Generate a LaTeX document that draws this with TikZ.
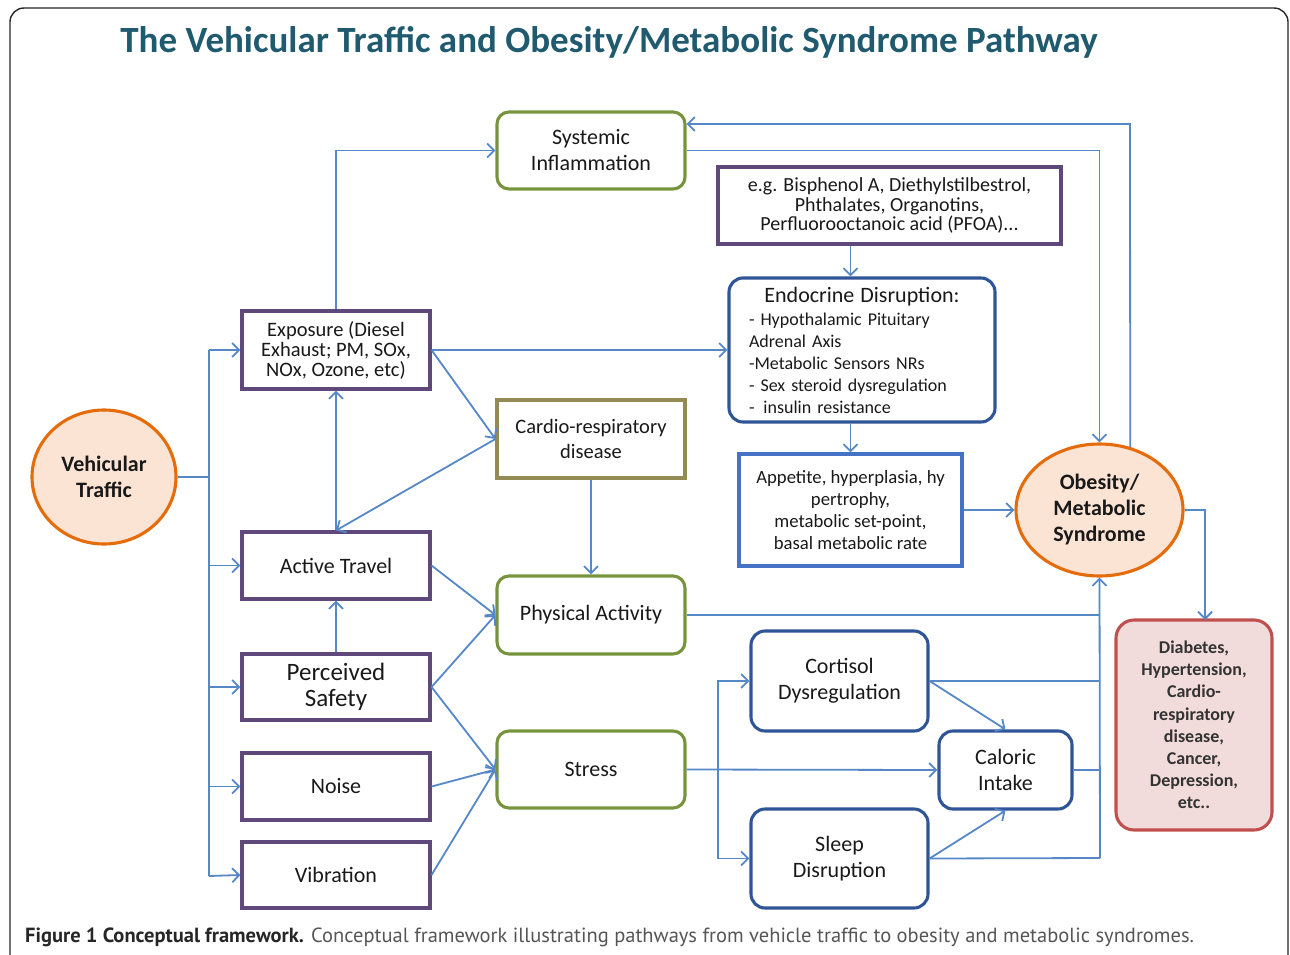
\documentclass[tikz,border=0pt]{standalone}
\usepackage{fontspec}
\setmainfont{Carlito}
\newfontfamily\capfont{PT Sans}
\usetikzlibrary{arrows.meta,shapes.geometric,calc}
\definecolor{conn}{RGB}{86,135,199}
\definecolor{gborder}{RGB}{119,147,60}
\definecolor{pborder}{RGB}{95,73,122}
\definecolor{oborder}{RGB}{148,138,84}
\definecolor{nborder}{RGB}{47,85,151}
\definecolor{lborder}{RGB}{69,114,196}
\definecolor{orborder}{RGB}{228,108,10}
\definecolor{orfill}{RGB}{252,228,212}
\definecolor{rborder}{RGB}{192,80,77}
\definecolor{rfill}{RGB}{242,220,219}
\definecolor{titlecol}{RGB}{31,90,110}
\definecolor{txt}{RGB}{25,25,25}
\definecolor{capgray}{RGB}{85,85,85}
\tikzset{
  basebox/.style={draw, line width=3.1pt, inner sep=0pt, align=center, text=txt,
    font=\fontsize{22}{26}\selectfont},
  greenbox/.style={basebox, draw=gborder, rounded corners=12pt},
  purplebox/.style={basebox, draw=pborder},
  olivebox/.style={basebox, draw=oborder},
  navybox/.style={basebox, draw=nborder, rounded corners=14pt},
  bluebox/.style={basebox, draw=lborder},
  ovalnode/.style={basebox, ellipse, draw=orborder, fill=orfill, font=\fontsize{22}{26}\selectfont\bfseries},
  redbox/.style={basebox, draw=rborder, fill=rfill, rounded corners=18pt},
  linkplain/.style={draw=conn, line width=1.8pt},
  link/.style={linkplain, -{Straight Barb[length=7pt,width=14pt,line width=1.8pt]}}
}
\begin{document}
\begin{tikzpicture}[x=1pt,y=-1pt]
\useasboundingbox (0,0) rectangle (1290,955);
% outer frame
\draw[line width=1.4pt, color=black!85, rounded corners=14pt] (10,1000) -- (10,8) -- (1288,8) -- (1288,1000);
% title
\node[font=\fontsize{37}{40}\selectfont\bfseries, text=titlecol] (title) at (609,42) {The Vehicular Traffic and Obesity/Metabolic Syndrome Pathway};

% nodes
\node[ovalnode, minimum width=144pt, minimum height=134pt] (VT) at (104,477) {Vehicular\\Traffic};
\node[greenbox, minimum width=188pt, minimum height=77pt] (SI) at (591,150.5) {Systemic\\Inflammation};
\node[purplebox, minimum width=188pt, minimum height=78pt, font=\fontsize{20.5}{20}\selectfont] (EX) at (336,350) {Exposure (Diesel\\Exhaust; PM, SOx,\\NOx, Ozone, etc)};
\node[purplebox, minimum width=343pt, minimum height=77pt, font=\fontsize{20}{19.5}\selectfont] (BP) at (889.5,205.5) {e.g. Bisphenol A, Diethylstilbestrol,\\Phthalates, Organotins,\\Perfluorooctanoic acid (PFOA)...};
\node[navybox, minimum width=266pt, minimum height=144pt, font=\fontsize{18}{22}\selectfont, text width=226pt, align=left] (ED) at (862,350)
  {\makebox[\linewidth][c]{\fontsize{22}{22}\selectfont Endocrine Disruption:}\\[1pt]
   - Hypothalamic Pituitary\\ Adrenal Axis\\ -Metabolic Sensors NRs\\ - Sex steroid dysregulation\\ -\, insulin resistance};
\node[olivebox, minimum width=188pt, minimum height=78pt, font=\fontsize{20.5}{25}\selectfont] (CR) at (591,439) {Cardio-respiratory\\disease};
\node[bluebox, minimum width=223pt, minimum height=112pt, font=\fontsize{18.7}{22}\selectfont] (AP) at (850.5,510) {Appetite, hyperplasia, hy\\pertrophy,\\metabolic set-point,\\basal metabolic rate};
\node[ovalnode, minimum width=167pt, minimum height=132pt] (OB) at (1099.5,510) {Obesity/\\Metabolic\\Syndrome};
\node[purplebox, minimum width=188pt, minimum height=67pt] (AT) at (336,565.5) {Active Travel};
\node[greenbox, minimum width=188pt, minimum height=78pt] (PA) at (591,615) {Physical Activity};
\node[purplebox, minimum width=188pt, minimum height=66pt, font=\fontsize{25}{26}\selectfont] (PS) at (336,687) {Perceived\\Safety};
\node[navybox, minimum width=177pt, minimum height=100pt] (CO) at (839.5,681) {Cortisol\\Dysregulation};
\node[navybox, minimum width=133pt, minimum height=78pt] (CI) at (1005.5,770) {Caloric\\Intake};
\node[greenbox, minimum width=188pt, minimum height=77pt] (ST) at (591,769.5) {Stress};
\node[purplebox, minimum width=188pt, minimum height=67pt] (NO) at (336,786.5) {Noise};
\node[purplebox, minimum width=188pt, minimum height=66pt] (VI) at (336,875) {Vibration};
\node[navybox, minimum width=177pt, minimum height=99pt] (SL) at (839.5,858.5) {Sleep\\Disruption};
\node[redbox, minimum width=156pt, minimum height=210pt, font=\fontsize{18}{22.2}\selectfont\bfseries, text=black!80] (DI) at (1194,725)
  {Diabetes,\\Hypertension,\\Cardio-\\respiratory\\disease,\\Cancer,\\Depression,\\etc..};

% caption
\node[anchor=west, inner sep=0pt, font=\capfont\fontsize{20.5}{22}\selectfont, text=black!85] (cap) at (25,937)
  {\textbf{Figure 1 Conceptual framework.} \textcolor{capgray}{Conceptual framework illustrating pathways from vehicle traffic to obesity and metabolic syndromes.}};

% helper coordinates
\coordinate (trunkTop) at (209,350);
\coordinate (trunkBot) at (209,876);
\coordinate (fb) at (1130,124);
\coordinate (dtop) at (1205,620);
\coordinate (colB) at (1100,858);
\coordinate (br) at (718,770);

% connectors from vehicular traffic
\draw[linkplain] (VT.east) -- (VT.east -| trunkTop);
\draw[linkplain] (trunkTop) -- (trunkBot);
\draw[link] (trunkTop) -- (EX.west);
\draw[link] (trunkTop |- AT.west) -- (AT.west);
\draw[link] (trunkTop |- PS.west) -- (PS.west);
\draw[link] (trunkTop |- NO.west) -- (NO.west);
\draw[link] (trunkBot) -- (VI.west);

% exposure
\draw[link] (EX.north) |- (SI.west);
\draw[link] (EX.east) -- (ED.west);
\draw[link] (EX.east) -- (CR.west);
\draw[link] (CR.west) -- (AT.north);
\draw[link] (AT.north) -- (EX.south);
\draw[link] (CR.south) -- (PA.north);
\draw[link] (AT.east) -- (PA.west);
\draw[link] (PS.east) -- (PA.west);
\draw[link] (PS.east) -- (ST.west);
\draw[link] (PS.north) -- (AT.south);
\draw[link] (NO.east) -- (ST.west);
\draw[link] (VI.east) -- (ST.west);

% inflammation loop
\draw[link] (SI.east) -| (OB.north);
\draw[link] (OB.64) -- (fb) -- (SI.east |- fb);

% endocrine chain
\draw[link] (AP.north |- BP.south) -- (AP.north |- ED.north);
\draw[link] (AP.north |- ED.south) -- (AP.north);
\draw[link] (AP.east) -- (OB.west);
\draw[link] (OB.east) -| (dtop);

% collector into obesity
\draw[link] (colB) -- (OB.south);
\draw[linkplain] (PA.east) -- (PA.east -| colB);
\draw[linkplain] (CO.east) -- (CO.east -| colB);
\draw[linkplain] (CI.east) -- (CI.east -| colB);
\draw[linkplain] (SL.east) -- (colB);

% stress branch
\draw[link] (ST.east) -- (CI.west);
\draw[link] (br) |- (CO.west);
\draw[link] (br) |- (SL.west);
\draw[link] (CO.east) -- (CI.north);
\draw[link] (SL.east) -- (CI.south);
\end{tikzpicture}
\end{document}
